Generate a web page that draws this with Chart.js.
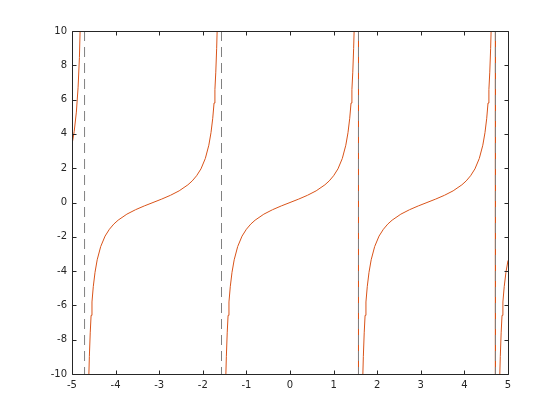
<!DOCTYPE html>
<html>
<head>
<meta charset="utf-8">
<script src="https://cdn.jsdelivr.net/npm/chart.js@4/dist/chart.umd.min.js"></script>
<style>
  body { margin: 0; background: #fff; }
  #wrap { width: 560px; height: 420px; }
</style>
</head>
<body>
<div id="wrap"><canvas id="plot" width="560" height="420"></canvas></div>
<script>
// tan(x), null = break in the curve
const curveX = [
  -5.000, -4.950, -4.900, -4.860, -4.830, -4.800,
  -4.712,
  -4.632, -4.617, -4.602, -4.582, -4.562, -4.542, -4.512, -4.472, -4.422, -4.342, -4.242, -4.142,
  -4.042, -3.942, -3.742, -3.542, -3.342, -3.142, -2.942, -2.742, -2.542, -2.342, -2.242, -2.142,
  -2.042, -1.942, -1.862, -1.812, -1.772, -1.742, -1.722, -1.702, -1.682, -1.667, -1.652,
  -1.571,
  -1.490, -1.475, -1.460, -1.440, -1.420, -1.400, -1.370, -1.330, -1.280, -1.200, -1.100, -1.000,
  -0.900, -0.800, -0.600, -0.400, -0.200, 0.000, 0.200, 0.400, 0.600, 0.800, 0.900, 1.000,
  1.100, 1.200, 1.280, 1.330, 1.370, 1.400, 1.420, 1.440, 1.460, 1.475, 1.490,
  1.571, 1.571,
  1.652, 1.667, 1.682, 1.702, 1.722, 1.742, 1.772, 1.812, 1.862, 1.942, 2.042, 2.142,
  2.242, 2.342, 2.542, 2.742, 2.942, 3.142, 3.342, 3.542, 3.742, 3.942, 4.042, 4.142,
  4.242, 4.342, 4.422, 4.472, 4.512, 4.542, 4.562, 4.582, 4.602, 4.617, 4.632,
  4.712, 4.712,
  4.793, 4.808, 4.823, 4.843, 4.863, 4.883, 4.913, 4.953, 5.000
];
const curveY = [
  3.38, 4.13, 5.27, 6.72, 8.45, 11.36,
  null,
  -12.35, -10.41, -8.99, -7.60, -6.58, -5.80, -4.91, -4.07, -3.34, -2.57, -1.96, -1.56,
  -1.26, -1.03, -0.68, -0.42, -0.20, 0.00, 0.20, 0.42, 0.68, 1.03, 1.26, 1.56,
  1.96, 2.57, 3.34, 4.07, 4.91, 5.80, 6.58, 7.60, 8.99, 10.41, 12.35,
  null,
  -12.35, -10.41, -8.99, -7.60, -6.58, -5.80, -4.91, -4.07, -3.34, -2.57, -1.96, -1.56,
  -1.26, -1.03, -0.68, -0.42, -0.20, 0.00, 0.20, 0.42, 0.68, 1.03, 1.26, 1.56,
  1.96, 2.57, 3.34, 4.07, 4.91, 5.80, 6.58, 7.60, 8.99, 10.41, 12.35,
  500, -500,
  -12.35, -10.41, -8.99, -7.60, -6.58, -5.80, -4.91, -4.07, -3.34, -2.57, -1.96, -1.56,
  -1.26, -1.03, -0.68, -0.42, -0.20, 0.00, 0.20, 0.42, 0.68, 1.03, 1.26, 1.56,
  1.96, 2.57, 3.34, 4.07, 4.91, 5.80, 6.58, 7.60, 8.99, 10.41, 12.35,
  500, -500,
  -12.35, -10.41, -8.99, -7.60, -6.58, -5.80, -4.91, -4.07, -3.38
];

// dashed asymptotes
const asymptoteX = [-4.712, -1.571, 1.571, 4.712];

const xRange = [-5, 5];
const yRange = [-10, 10];

let points = curveX.map((x, i) => ({ x: x, y: curveY[i] }));

let datasets = asymptoteX.map(a => ({
  data: [{ x: a, y: yRange[1] }, { x: a, y: yRange[0] }],
  borderColor: "#808080",
  borderWidth: 1,
  borderDash: [10, 6],
  pointRadius: 0,
  showLine: true,
  order: 0
}));
datasets.push({
  data: points,
  borderColor: "#d95319",
  borderWidth: 1,
  pointRadius: 0,
  showLine: true,
  spanGaps: false,
  order: 1
});

// box round the plot with ticks pointing inward
const boxTicks = {
  id: "boxTicks",
  afterDraw(chart) {
    let ctx = chart.ctx;
    let a = chart.chartArea;
    let xs = chart.scales.x, ys = chart.scales.y;
    let L = Math.round(a.left) + 0.5, R = Math.round(a.right) + 0.5;
    let T = Math.round(a.top) + 0.5, B = Math.round(a.bottom) + 0.5;
    ctx.save();
    ctx.strokeStyle = "#262626";
    ctx.lineWidth = 1;
    ctx.beginPath();
    ctx.rect(L, T, R - L, B - T);
    for (let t of xs.ticks) {
      let px = Math.round(xs.getPixelForValue(t.value)) + 0.5;
      ctx.moveTo(px, B); ctx.lineTo(px, B - 4);
      ctx.moveTo(px, T); ctx.lineTo(px, T + 4);
    }
    for (let t of ys.ticks) {
      let py = Math.round(ys.getPixelForValue(t.value)) + 0.5;
      ctx.moveTo(L, py); ctx.lineTo(L + 4, py);
      ctx.moveTo(R, py); ctx.lineTo(R - 4, py);
    }
    ctx.stroke();
    ctx.restore();
  }
};

new Chart(document.getElementById("plot"), {
  type: "scatter",
  data: { datasets: datasets },
  options: {
    responsive: false,
    animation: false,
    layout: { padding: { top: 31, right: 52, left: 0, bottom: 0 } },
    plugins: { legend: { display: false }, tooltip: { enabled: false } },
    scales: {
      x: {
        type: "linear",
        min: xRange[0], max: xRange[1],
        grid: { display: false, drawTicks: false },
        border: { display: false },
        ticks: { stepSize: 1, color: "#262626", padding: 5, font: { family: "DejaVu Sans", size: 10 } },
        afterFit(s) { s.height = 46; }
      },
      y: {
        type: "linear",
        min: yRange[0], max: yRange[1],
        grid: { display: false, drawTicks: false },
        border: { display: false },
        ticks: { stepSize: 2, color: "#262626", padding: 5, font: { family: "DejaVu Sans", size: 10 } },
        afterFit(s) { s.width = 72; }
      }
    }
  },
  plugins: [boxTicks]
});
</script>
</body>
</html>
